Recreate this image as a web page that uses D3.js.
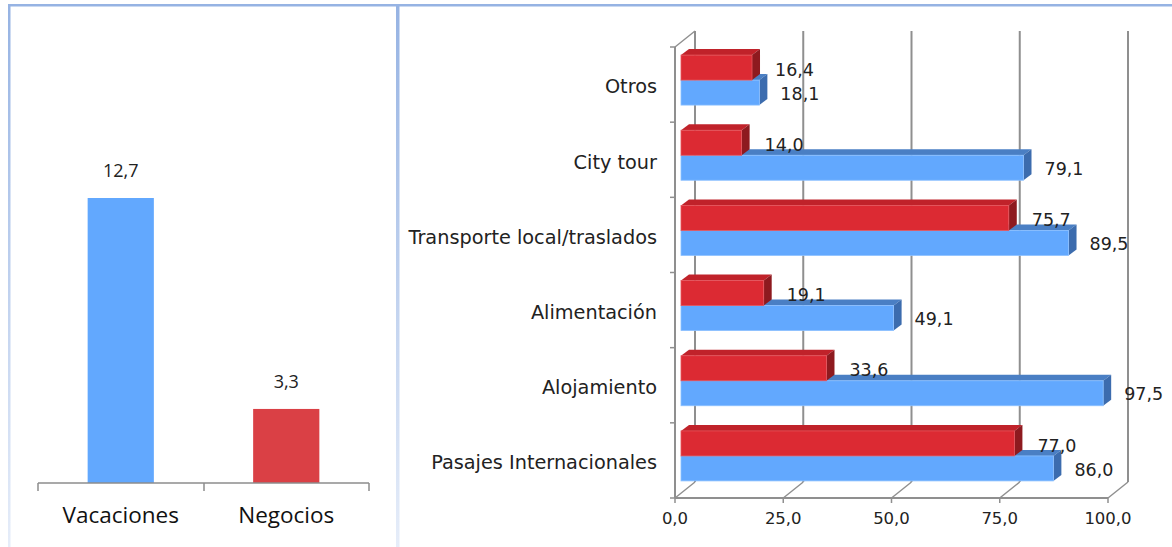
<!DOCTYPE html>
<html>
<head>
<meta charset="utf-8">
<script src="https://cdn.jsdelivr.net/npm/d3@7"></script>
<style>
  html, body { margin: 0; padding: 0; background: #fff; }
  svg { display: block; }
</style>
</head>
<body>
<div id="chart"></div>
<script>
// left panel: trip purpose
const purposeCats = ["Vacaciones", "Negocios"];
const purposeVals = [12.7, 3.3];

// right panel: spending items (top to bottom)
const categories = ["Otros", "City tour", "Transporte local/traslados", "Alimentación", "Alojamiento", "Pasajes Internacionales"];
const redVals = [16.4, 14.0, 75.7, 19.1, 33.6, 77.0];
const blueVals = [18.1, 79.1, 89.5, 49.1, 97.5, 86.0];
const xTicks = [0, 25, 50, 75, 100];

const W = 1172, H = 547;
const fmt = v => d3.format(".1f")(v).replace(".", ",");

const svg = d3.select("#chart").append("svg")
    .attr("width", W)
    .attr("height", H);

// panel borders, fading towards the bottom
const defs = svg.append("defs");
const grad = defs.append("linearGradient")
    .attr("id", "borderFade")
    .attr("x1", 0).attr("y1", 0).attr("x2", 0).attr("y2", 1);
grad.append("stop").attr("offset", "0%").attr("stop-color", "#96b3e3");
grad.append("stop").attr("offset", "100%").attr("stop-color", "#e6edf9");

svg.append("rect").attr("x", 8).attr("y", 4).attr("width", W - 8).attr("height", 2.5).attr("fill", "#96b3e3");
svg.append("rect").attr("x", 8).attr("y", 4).attr("width", 2.5).attr("height", H - 4).attr("fill", "url(#borderFade)");
svg.append("rect").attr("x", 396).attr("y", 4).attr("width", 3.5).attr("height", H - 4).attr("fill", "url(#borderFade)");

// ---------- left column chart ----------
const lx = d3.scaleBand()
    .domain(purposeCats)
    .range([38, 369])
    .paddingInner(0.6)
    .paddingOuter(0.3);

const ly = d3.scaleLinear()
    .domain([0, 12.7])
    .range([483, 198]);

const leftColors = ["#62a8fe", "#da4045"];

const left = svg.append("g");

left.selectAll(".lbar")
    .data(purposeVals)
    .enter()
    .append("rect")
    .attr("class", "lbar")
    .attr("x", (d, i) => lx(purposeCats[i]))
    .attr("y", d => ly(d))
    .attr("width", lx.bandwidth())
    .attr("height", d => ly(0) - ly(d))
    .attr("fill", (d, i) => leftColors[i]);

left.selectAll(".lval")
    .data(purposeVals)
    .enter()
    .append("text")
    .attr("x", (d, i) => lx(purposeCats[i]) + lx.bandwidth() / 2)
    .attr("y", d => ly(d) - 21)
    .attr("text-anchor", "middle")
    .style("font-family", "'Open Sans', sans-serif")
    .style("font-size", "18px")
    .style("fill", "#222")
    .text(d => fmt(d));

const lAxis = left.append("g")
    .attr("transform", `translate(0,${ly(0)})`)
    .call(d3.axisBottom(lx).tickSize(0).tickPadding(24));
lAxis.select(".domain").attr("stroke", "#8c8c8c").attr("stroke-width", 1.5).attr("d", "M38,0H369");
lAxis.selectAll("text")
    .style("font-family", "'Open Sans', sans-serif")
    .style("font-size", "22.5px")
    .style("fill", "#111");

// boundary ticks
left.selectAll(".ltick")
    .data([38, 204, 369])
    .enter()
    .append("line")
    .attr("x1", d => d).attr("x2", d => d)
    .attr("y1", ly(0)).attr("y2", ly(0) + 8)
    .attr("stroke", "#8c8c8c").attr("stroke-width", 1.5);

// ---------- right 3D bar chart ----------
const x = d3.scaleLinear().domain([0, 100]).range([675, 1108]);
const y = d3.scaleBand().domain(categories).range([47, 498]);

const wallDx = 20, wallDy = -16;     // depth of the wall/floor
const barDx = 6, barDy = -4.5;       // bars sit part way into the depth
const sideDx = 8, sideDy = -6;       // bar thickness
const barH = 25;
const gridColor = "#8f8f8f";
const rightFont = "'DejaVu Sans', Verdana, sans-serif";

const right = svg.append("g");

// back gridlines
right.selectAll(".grid")
    .data(xTicks)
    .enter()
    .append("line")
    .attr("x1", d => x(d) + wallDx).attr("x2", d => x(d) + wallDx)
    .attr("y1", y.range()[0] + wallDy).attr("y2", y.range()[1] + wallDy)
    .attr("stroke", gridColor).attr("stroke-width", 2);

// floor diagonals
right.selectAll(".floorDiag")
    .data(xTicks)
    .enter()
    .append("line")
    .attr("x1", d => x(d)).attr("x2", d => x(d) + wallDx)
    .attr("y1", y.range()[1]).attr("y2", y.range()[1] + wallDy)
    .attr("stroke", gridColor).attr("stroke-width", 1.5);

// front left wall edge, top diagonal, floor front edge
right.append("line")
    .attr("x1", x(0)).attr("x2", x(0))
    .attr("y1", y.range()[0]).attr("y2", y.range()[1])
    .attr("stroke", gridColor).attr("stroke-width", 2);
right.append("line")
    .attr("x1", x(0)).attr("x2", x(0) + wallDx)
    .attr("y1", y.range()[0]).attr("y2", y.range()[0] + wallDy)
    .attr("stroke", gridColor).attr("stroke-width", 1.5);
right.append("line")
    .attr("x1", x(0)).attr("x2", x(100))
    .attr("y1", y.range()[1]).attr("y2", y.range()[1])
    .attr("stroke", gridColor).attr("stroke-width", 2);

// left axis ticks at category boundaries
const bounds = categories.map(c => y(c)).concat([y.range()[1]]);
right.selectAll(".ytick")
    .data(bounds)
    .enter()
    .append("line")
    .attr("x1", x(0) - 5).attr("x2", x(0))
    .attr("y1", d => d).attr("y2", d => d)
    .attr("stroke", gridColor).attr("stroke-width", 1.5);

// bottom axis ticks + labels
right.selectAll(".xtick")
    .data(xTicks)
    .enter()
    .append("line")
    .attr("x1", d => x(d)).attr("x2", d => x(d))
    .attr("y1", y.range()[1]).attr("y2", y.range()[1] + 5)
    .attr("stroke", gridColor).attr("stroke-width", 1.5);

right.selectAll(".xlab")
    .data(xTicks)
    .enter()
    .append("text")
    .attr("x", d => x(d))
    .attr("y", y.range()[1] + 26)
    .attr("text-anchor", "middle")
    .style("font-family", rightFont)
    .style("font-size", "16.5px")
    .style("fill", "#222")
    .text(d => fmt(d));

// category labels
right.selectAll(".ylab")
    .data(categories)
    .enter()
    .append("text")
    .attr("x", 657)
    .attr("y", d => y(d) + y.bandwidth() / 2 + 2)
    .attr("dy", "0.35em")
    .attr("text-anchor", "end")
    .style("font-family", rightFont)
    .style("font-size", "19.3px")
    .style("fill", "#222")
    .text(d => d);

// one 3D bar: top face, side face, front face
function drawBar(g, v, top, c) {
    const x0 = x(0) + barDx, x1 = x(v) + barDx;
    const y0 = top, y1 = top + barH;
    g.append("path")
        .attr("d", `M${x0},${y0}L${x0 + sideDx},${y0 + sideDy}L${x1 + sideDx},${y0 + sideDy}L${x1},${y0}Z`)
        .attr("fill", c.top);
    g.append("path")
        .attr("d", `M${x1},${y0}L${x1 + sideDx},${y0 + sideDy}L${x1 + sideDx},${y1 + sideDy}L${x1},${y1}Z`)
        .attr("fill", c.side);
    g.append("rect")
        .attr("x", x0).attr("y", y0)
        .attr("width", x1 - x0).attr("height", barH)
        .attr("fill", c.front)
        .attr("stroke", c.edge).attr("stroke-width", 0.8);
}

const blueC = { front: "#62a8fe", top: "#4a7fc4", side: "#3c6cae", edge: "#8cc0ff" };
const redC = { front: "#dc2a33", top: "#c0222a", side: "#8e1a1f", edge: "#e5555c" };

const valStyle = sel => sel
    .style("font-family", rightFont)
    .style("font-size", "17.5px")
    .style("fill", "#222");

categories.forEach((c, i) => {
    const mid = y(c) + y.bandwidth() / 2 + barDy;
    const redTop = mid - barH, blueTop = mid;
    const g = right.append("g");
    drawBar(g, blueVals[i], blueTop, blueC);
    drawBar(g, redVals[i], redTop, redC);

    g.append("text")
        .attr("x", x(redVals[i]) + barDx + sideDx + 15)
        .attr("y", redTop + barH / 2 + 2)
        .attr("dy", "0.35em")
        .call(valStyle)
        .text(fmt(redVals[i]));
    g.append("text")
        .attr("x", x(blueVals[i]) + barDx + sideDx + 13)
        .attr("y", blueTop + barH / 2 + 1)
        .attr("dy", "0.35em")
        .call(valStyle)
        .text(fmt(blueVals[i]));
});
</script>
</body>
</html>
